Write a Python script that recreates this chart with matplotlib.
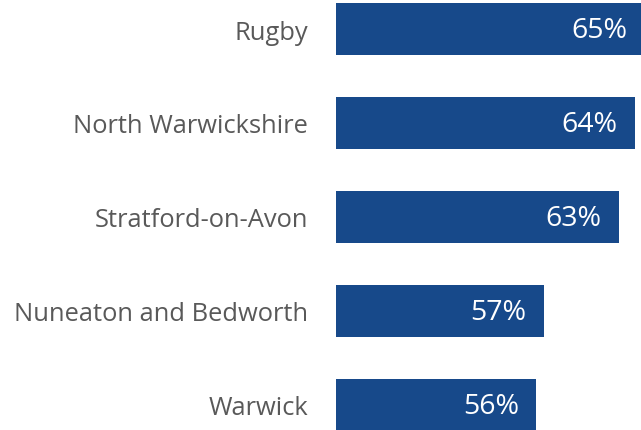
import matplotlib.pyplot as plt

areas = ['Rugby', 'North Warwickshire', 'Stratford-on-Avon', 'Nuneaton and Bedworth', 'Warwick']
values = [64.7, 63.9, 62.6, 56.6, 56.0]

bar_color = '#17498A'
text_color = '#595959'

plt.rcParams['font.family'] = ['Open Sans', 'DejaVu Sans']

fig = plt.figure(figsize=(6.41, 4.31), dpi=100)
ax = fig.add_axes([336 / 641, 0, 305 / 641, 1])

ypos = range(len(areas))
ax.barh(ypos, [v - 40 for v in values], left=40, height=0.554, color=bar_color)

for y, v in zip(ypos, values):
    ax.text(v - 1.36, y + 0.01, f'{v:.0f}%', ha='right', va='center', color='white', fontsize=20.5)

ax.set_yticks(list(ypos))
ax.set_yticklabels(areas, fontsize=18.4, color=text_color)
ax.tick_params(axis='y', length=0, pad=20)
ax.set_xticks([])
ax.set_xlim(40, 64.4)
ax.set_ylim(4.27, -0.32)
for s in ax.spines.values():
    s.set_visible(False)

plt.savefig('out.png', dpi=100)
